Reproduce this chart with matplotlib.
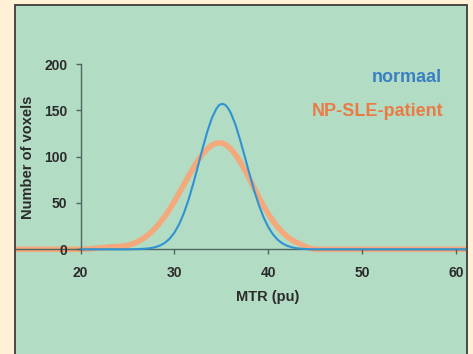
import matplotlib
matplotlib.use("Agg")
import matplotlib.pyplot as plt
from matplotlib.patches import Rectangle

# ---- data ----
x_blue = [20, 25, 26, 27, 27.5, 28, 28.5, 29, 29.5, 30, 30.5, 31, 31.5, 32, 32.5, 33, 33.5,
          34, 34.5, 34.8, 35.1, 35.4, 35.7, 36, 36.5, 37, 37.5, 38, 38.5, 39, 39.5, 40, 40.5, 41, 41.5,
          42, 42.5, 43, 43.5, 44, 44.5, 45, 61.5]
y_blue = [0, 0, 0.2, 0.7, 1.3, 2.4, 4.2, 7.1, 11.5, 18.0, 26.9, 38.7, 53.3, 70.5, 89.4, 108.8, 126.9,
          141.9, 152.3, 156.0, 157.0, 156.0, 152.6, 147.3, 134.6, 118.1, 99.9, 81.2, 63.4, 47.6, 34.4, 23.9, 16.0, 10.3, 6.4,
          3.8, 2.2, 1.2, 0.6, 0.3, 0.1, 0, 0]

x_orange = [12, 20, 21, 22, 23, 24, 24.5, 25, 25.5, 26, 26.5, 27, 27.5, 28, 28.5, 29, 29.5, 30,
            30.5, 31, 31.5, 32, 32.5, 33, 33.5, 34, 34.5, 35, 35.5, 36, 36.5, 37, 37.5, 38,
            38.5, 39, 39.5, 40, 40.5, 41, 41.5, 42, 42.5, 43, 43.5, 44, 44.5, 45, 62]
y_orange = [0, 0, 0.5, 1.5, 2.5, 3.0, 3.4, 4.1, 5.7, 7.9, 10.6, 14.0, 18.2, 23.2, 29.1, 35.9, 43.5, 51.7,
            60.6, 69.8, 78.8, 87.6, 95.8, 102.8, 108.5, 112.5, 114.6, 114.8, 112.7, 108.4, 102.2, 94.4, 85.5, 75.7,
            65.7, 56.0, 46.7, 38.2, 30.6, 23.9, 18.4, 13.9, 10.2, 7.4, 5.2, 2.5, 1.0, 0, 0]

x_ticks = [20, 30, 40, 50, 60]
y_ticks = [0, 50, 100, 150, 200]
label_normal = "normaal"
label_patient = "NP-SLE-patient"
x_title = "MTR (pu)"
y_title = "Number of voxels"

# ---- figure ----
W, H = 473, 354
fig = plt.figure(figsize=(W / 100, H / 100), dpi=100)
fig.patch.set_facecolor("#FFF0D6")

def fx(px):
    return px / W

def fy(py):
    return 1 - py / H

# green panel
fig.patches.append(Rectangle((fx(15), fy(360)), fx(467) - fx(15), fy(5) - fy(360),
                             transform=fig.transFigure, facecolor="#B3DCC4",
                             edgecolor="#3c3c3c", linewidth=1.3, zorder=-10))

# axes mapped to pixels: x=20 -> 80.5px, 9.39 px/unit ; y=0 -> 249.3px, 0.9265 px/unit
ax_l, ax_r, ax_t, ax_b = 16, 466, 6, 354
ax = fig.add_axes([fx(ax_l), fy(ax_b), fx(ax_r) - fx(ax_l), fy(ax_t) - fy(ax_b)])
ax.set_zorder(5)
ax.set_facecolor("none")
sx, x0p = 9.39, 80.5
sy, y0p = 0.9265, 249.3
ax.set_xlim(20 + (ax_l - x0p) / sx, 20 + (ax_r - x0p) / sx)
ax.set_ylim((y0p - ax_b) / sy, (y0p - ax_t) / sy)

ax.plot(x_orange, y_orange, color="#F3A97C", lw=4.0, solid_capstyle="butt", zorder=2)
ax.plot(x_blue, y_blue, color="#2F93D2", lw=1.5, zorder=3)

for s in ["top", "right"]:
    ax.spines[s].set_visible(False)
spine_c = "#4d6660"
ax.spines["left"].set_position(("data", 20))
ax.spines["left"].set_bounds(0, 200)
ax.spines["bottom"].set_position(("data", 0))
for s in ["left", "bottom"]:
    ax.spines[s].set_color(spine_c)
    ax.spines[s].set_linewidth(1.0)
    ax.spines[s].set_zorder(2.5)
ax.yaxis.set_zorder(4)
ax.xaxis.set_zorder(4)

ax.set_xticks(x_ticks)
ax.set_yticks(y_ticks)
ax.set_xticklabels([str(v) for v in x_ticks])
ax.set_yticklabels([str(v) for v in y_ticks])
ax.tick_params(axis="both", direction="out", length=3.6, width=1.0, color=spine_c,
               labelcolor="#2b2b2b")
ax.tick_params(axis="y", pad=6, labelsize=10)
ax.tick_params(axis="x", pad=8.5, labelsize=10)
for lab in ax.get_xticklabels() + ax.get_yticklabels():
    lab.set_fontfamily("Liberation Sans")
    lab.set_fontweight("bold")

fig.text(fx(268), fy(297), x_title, ha="center", va="center", fontsize=10.5,
         fontweight="bold", family="Liberation Sans", color="#2b2b2b")
fig.text(fx(28), fy(157), y_title, ha="center", va="center", rotation=90, fontsize=10.5,
         fontweight="bold", family="Liberation Sans", color="#2b2b2b")

fig.text(fx(442), fy(77), label_normal, ha="right", va="center", fontsize=13,
         fontweight="bold", family="Liberation Sans", color="#3A80C2")
fig.text(fx(443), fy(111), label_patient, ha="right", va="center", fontsize=13,
         fontweight="bold", family="Liberation Sans", color="#EA7B45")

fig.savefig("out.png", dpi=100, facecolor=fig.get_facecolor())
